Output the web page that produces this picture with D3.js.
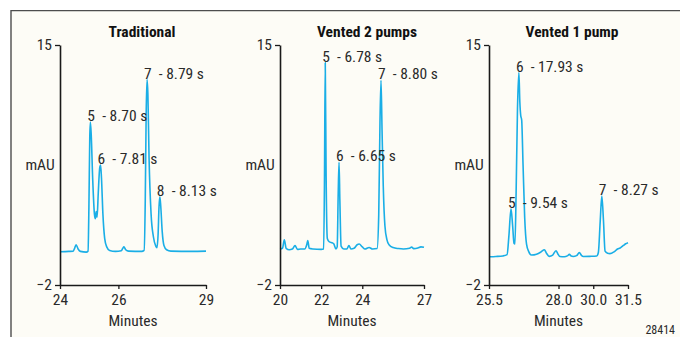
<!DOCTYPE html>
<html><head><meta charset="utf-8">
<script src="https://cdn.jsdelivr.net/npm/d3@7/dist/d3.min.js"></script>
<style>
html,body{margin:0;padding:0;background:#fff;}
svg text{font-family:"Liberation Sans Narrow","Arial Narrow","Roboto Condensed",sans-serif;white-space:pre;}
</style></head><body>
<svg id="c" width="680" height="337"></svg>
<script>
// ---------- data ----------
const panelTitles = ["Traditional", "Vented 2 pumps", "Vented 1 pump"];
const xDomains = [[24, 29], [20, 27], [25.5, 31.5]];
const xTickValues = [[24, 26, 29], [20, 22, 24, 27], [25.5, 28.5, 30, 31.5]];
const xTickLabels = [["24", "26", "29"], ["20", "22", "24", "27"], ["25.5", "28.0", "30.0", "31.5"]];
const yDomain = [-2, 15];
const yTickValues = [-2, 15];
const yTickLabels = ["\u22122", "15"];
const xAxisTitle = "Minutes";
const yAxisTitle = "mAU";
const figureId = "28414";

// [minutes, mAU]
const traditionalTrace = [
  [24.00,0.35],[24.30,0.38],[24.45,0.40],[24.50,0.60],[24.55,0.85],[24.62,0.55],[24.70,0.38],
  [24.90,0.33],[24.96,0.40],[24.99,3.5],[25.02,8.5],[25.04,9.55],[25.07,8.6],[25.12,5.5],
  [25.18,3.0],[25.21,2.7],[25.24,3.2],[25.27,2.8],[25.31,4.5],[25.36,6.3],[25.39,6.5],
  [25.42,5.6],[25.47,3.0],[25.53,1.3],[25.60,0.7],[25.70,0.45],[25.90,0.38],[26.10,0.42],
  [26.15,0.60],[26.19,0.70],[26.25,0.50],[26.35,0.40],[26.80,0.38],[26.88,0.45],[26.92,4.0],
  [26.95,10.0],[26.98,12.55],[27.01,11.5],[27.05,7.0],[27.12,3.0],[27.20,1.4],[27.28,0.75],
  [27.32,0.65],[27.36,1.6],[27.39,3.5],[27.42,4.25],[27.45,3.6],[27.50,1.8],[27.56,0.8],
  [27.65,0.5],[27.80,0.4],[28.50,0.38],[29.00,0.40]
];
const vented2Trace = [
  [20.00,0.55],[20.12,0.60],[20.21,1.20],[20.30,0.60],[20.45,0.50],[20.60,0.55],[20.73,0.80],
  [20.85,0.52],[21.00,0.55],[21.20,0.55],[21.30,0.85],[21.35,1.15],[21.42,0.60],[21.60,0.55],
  [22.00,0.52],[22.12,0.55],[22.16,5.0],[22.20,13.75],[22.24,6.0],[22.30,1.3],[22.40,1.05],
  [22.55,0.98],[22.62,0.90],[22.72,0.55],[22.78,0.70],[22.83,4.5],[22.87,6.7],[22.91,4.0],
  [22.97,0.75],[23.10,0.55],[23.25,0.55],[23.35,0.80],[23.45,0.55],[23.60,0.60],[23.75,0.85],
  [23.85,0.90],[24.00,0.70],[24.13,0.55],[24.33,0.66],[24.50,0.55],[24.72,0.58],[24.80,3.0],
  [24.86,9.5],[24.91,12.5],[24.96,9.0],[25.02,5.0],[25.10,2.2],[25.20,1.2],[25.30,0.85],
  [25.50,0.65],[25.75,0.58],[26.00,0.55],[26.30,0.60],[26.40,0.68],[26.50,0.58],[26.70,0.62],
  [26.85,0.70],[27.00,0.67]
];
const vented1Trace = [
  [25.50,0.00],[25.80,0.02],[26.10,0.06],[26.28,0.15],[26.36,1.5],[26.45,3.4],[26.52,2.2],
  [26.58,0.95],[26.62,0.90],[26.67,4.5],[26.73,10.5],[26.79,13.05],[26.83,11.0],[26.87,10.0],
  [26.91,9.7],[26.97,6.5],[27.04,2.8],[27.12,0.9],[27.22,0.35],[27.34,0.12],[27.55,0.18],
  [27.75,0.35],[27.89,0.50],[27.98,0.25],[28.10,0.03],[28.25,0.12],[28.39,0.43],[28.48,0.18],
  [28.56,0.02],[28.75,0.00],[28.88,0.06],[28.97,0.17],[29.05,0.05],[29.13,0.02],[29.28,0.08],
  [29.40,0.29],[29.50,0.08],[29.57,0.02],[29.85,0.03],[30.15,0.05],[30.22,0.3],[30.30,2.5],
  [30.37,4.3],[30.44,2.6],[30.51,0.4],[30.62,0.25],[30.72,0.22],[30.90,0.35],[31.05,0.55],
  [31.16,0.62],[31.30,0.80],[31.40,0.92],[31.50,1.00]
];
const traces = [traditionalTrace, vented2Trace, vented1Trace];

// peak labels: text, apex minute, apex mAU
const peakLabels = [
  ["5  - 8.70 s", "6  - 7.81 s", "7  - 8.79 s", "8  - 8.13 s"],
  ["5  - 6.78 s", "6  - 6.65 s", "7  - 8.80 s"],
  ["5  - 9.54 s", "6  - 17.93 s", "7  - 8.27 s"]
];
const peakMinutes = [[25.04, 25.39, 26.98, 27.42], [22.20, 22.87, 24.91], [26.45, 26.79, 30.37]];
const peakHeights = [[9.55, 6.5, 12.55, 4.25], [13.75, 6.7, 12.5], [3.4, 13.05, 4.3]];

// ---------- layout ----------
const W = 680, H = 337;
const plotTop = 45, plotBottom = 285;
const panelLeft = [60, 280, 489], panelRight = [206, 424, 628];
const titleX = [142, 367, 572];
const lineColor = "#1aaee6";
const axisColor = "#1a1a1a";
const textColor = "#2a2a2a";

const svg = d3.select("#c");
svg.append("rect").attr("width", W).attr("height", H).attr("fill", "#ffffff");
svg.append("rect").attr("x", 11).attr("y", 11).attr("width", W - 11).attr("height", H - 11).attr("fill", "#fdfcf6");
svg.append("path").attr("d", `M11,${H} L11,10.6 L${W},10.6`).attr("fill", "none")
  .attr("stroke", "#4d4d4d").attr("stroke-width", 1.4);

const y = d3.scaleLinear().domain(yDomain).range([plotBottom, plotTop]);

traces.forEach((trace, i) => {
  const x = d3.scaleLinear().domain(xDomains[i]).range([panelLeft[i], panelRight[i]]);
  const g = svg.append("g");

  // title
  g.append("text").attr("x", titleX[i]).attr("y", 37).attr("text-anchor", "middle")
    .attr("font-size", 15.5).attr("font-weight", "bold").attr("fill", "#111").text(panelTitles[i]);

  // trace
  const line = d3.line().x(d => x(d[0])).y(d => y(d[1])).curve(d3.curveMonotoneX);
  g.append("path").datum(trace).attr("d", line).attr("fill", "none")
    .attr("stroke", lineColor).attr("stroke-width", 1.6).attr("stroke-linejoin", "round");

  // x axis
  const xAxis = d3.axisBottom(x).tickValues(xTickValues[i]).tickSize(4).tickSizeOuter(0)
    .tickFormat((d, k) => xTickLabels[i][k]);
  const gx = g.append("g").attr("transform", `translate(0,${plotBottom})`).call(xAxis);
  gx.attr("font-family", null);
  gx.select(".domain").attr("stroke", axisColor).attr("stroke-width", 1.6);
  gx.selectAll(".tick line").attr("stroke", axisColor).attr("stroke-width", 1.3);
  gx.selectAll(".tick text").attr("font-size", 15.5).attr("fill", textColor)
    .attr("dy", "0.71em").attr("y", 9);

  // y axis
  const yAxis = d3.axisLeft(y).tickValues(yTickValues).tickSize(5).tickSizeOuter(0)
    .tickFormat((d, k) => yTickLabels[k]);
  const gy = g.append("g").attr("transform", `translate(${panelLeft[i]},0)`).call(yAxis);
  gy.attr("font-family", null);
  gy.select(".domain").attr("stroke", axisColor).attr("stroke-width", 1.6);
  gy.selectAll(".tick line").attr("stroke", axisColor).attr("stroke-width", 1.3);
  gy.selectAll(".tick text").attr("font-size", 15.5).attr("fill", textColor)
    .attr("x", -8).attr("dy", "0.28em");

  // axis titles
  g.append("text").attr("x", (panelLeft[i] + panelRight[i]) / 2).attr("y", 326)
    .attr("text-anchor", "middle").attr("font-size", 15.5).attr("fill", textColor).text(xAxisTitle);
  g.append("text").attr("x", panelLeft[i] - 20).attr("y", 170)
    .attr("text-anchor", "middle").attr("font-size", 15.5).attr("fill", textColor).text(yAxisTitle);

  // peak labels
  peakLabels[i].forEach((t, k) => {
    g.append("text").attr("x", x(peakMinutes[i][k]) - 3).attr("y", y(peakHeights[i][k]) - 1)
      .attr("font-size", 15.5).attr("fill", textColor).text(t);
  });
});

svg.append("text").attr("x", 675).attr("y", 334).attr("text-anchor", "end")
  .attr("font-size", 12).attr("fill", textColor).text(figureId);
</script>
</body></html>
